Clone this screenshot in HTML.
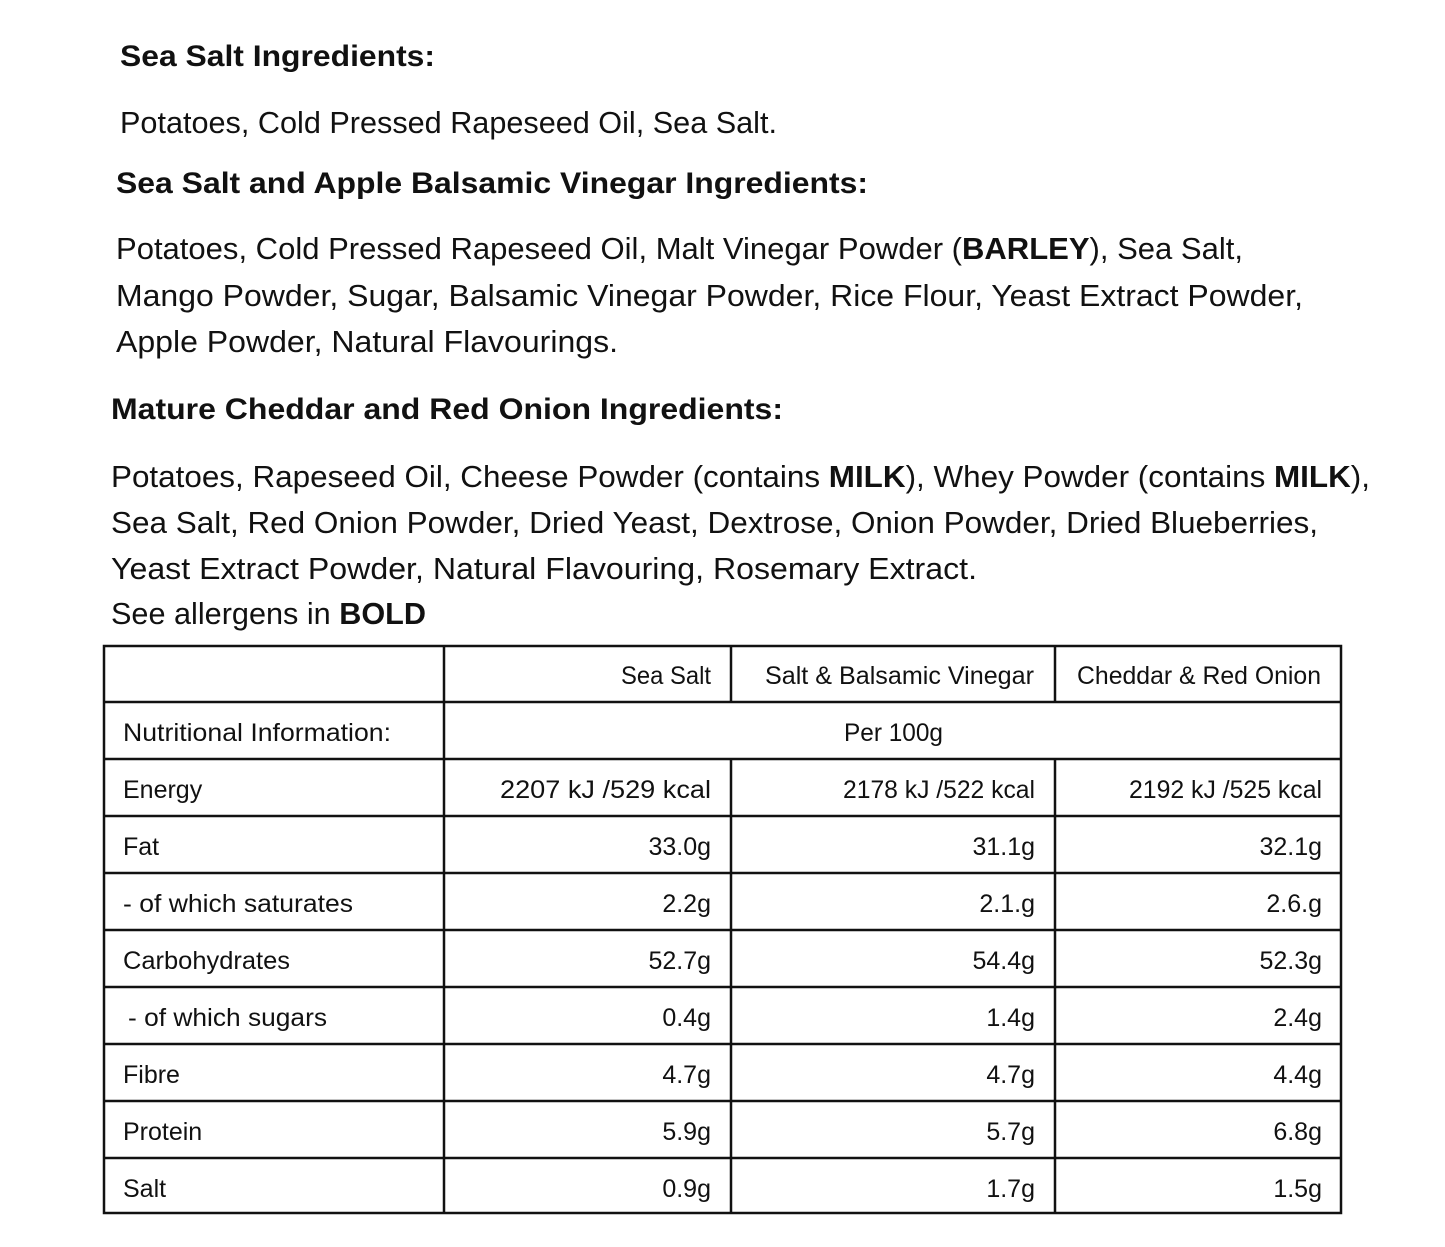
<!DOCTYPE html>
<html><head><meta charset="utf-8"><style>
html,body{margin:0;padding:0;background:#fff;}
svg{display:block;}
text{font-family:"Liberation Sans",sans-serif;fill:#111;}
.h{font-weight:bold;font-size:30px;}
.p{font-size:31px;}
.t{font-size:25px;}
</style></head><body>
<svg width="1445" height="1247" viewBox="0 0 1445 1247" xmlns="http://www.w3.org/2000/svg">
<text class="h" x="120" y="66" textLength="315" lengthAdjust="spacingAndGlyphs">Sea Salt Ingredients:</text>
<text class="p" x="120" y="133" textLength="657" lengthAdjust="spacingAndGlyphs">Potatoes, Cold Pressed Rapeseed Oil, Sea Salt.</text>
<text class="h" x="116" y="193" textLength="752" lengthAdjust="spacingAndGlyphs">Sea Salt and Apple Balsamic Vinegar Ingredients:</text>
<text class="p" x="116" y="259" textLength="1127" lengthAdjust="spacingAndGlyphs">Potatoes, Cold Pressed Rapeseed Oil, Malt Vinegar Powder (<tspan font-weight="bold">BARLEY</tspan>), Sea Salt,</text>
<text class="p" x="116" y="306" textLength="1187" lengthAdjust="spacingAndGlyphs">Mango Powder, Sugar, Balsamic Vinegar Powder, Rice Flour, Yeast Extract Powder,</text>
<text class="p" x="116" y="352" textLength="502" lengthAdjust="spacingAndGlyphs">Apple Powder, Natural Flavourings.</text>
<text class="h" x="111" y="419" textLength="672" lengthAdjust="spacingAndGlyphs">Mature Cheddar and Red Onion Ingredients:</text>
<text class="p" x="111" y="487" textLength="1259" lengthAdjust="spacingAndGlyphs">Potatoes, Rapeseed Oil, Cheese Powder (contains <tspan font-weight="bold">MILK</tspan>), Whey Powder (contains <tspan font-weight="bold">MILK</tspan>),</text>
<text class="p" x="111" y="533" textLength="1207" lengthAdjust="spacingAndGlyphs">Sea Salt, Red Onion Powder, Dried Yeast, Dextrose, Onion Powder, Dried Blueberries,</text>
<text class="p" x="111" y="579" textLength="866" lengthAdjust="spacingAndGlyphs">Yeast Extract Powder, Natural Flavouring, Rosemary Extract.</text>
<text class="p" x="111" y="624" textLength="315" lengthAdjust="spacingAndGlyphs">See allergens in <tspan font-weight="bold">BOLD</tspan></text>
<g stroke="#111" stroke-width="2.5" fill="none">
<rect x="104" y="646" width="1237" height="567"/>
<line x1="104" y1="702" x2="1341" y2="702"/>
<line x1="104" y1="759" x2="1341" y2="759"/>
<line x1="104" y1="816" x2="1341" y2="816"/>
<line x1="104" y1="873" x2="1341" y2="873"/>
<line x1="104" y1="930" x2="1341" y2="930"/>
<line x1="104" y1="987" x2="1341" y2="987"/>
<line x1="104" y1="1044" x2="1341" y2="1044"/>
<line x1="104" y1="1101" x2="1341" y2="1101"/>
<line x1="104" y1="1158" x2="1341" y2="1158"/>
<line x1="444" y1="646" x2="444" y2="1213"/>
<line x1="731" y1="646" x2="731" y2="702"/>
<line x1="1055" y1="646" x2="1055" y2="702"/>
<line x1="731" y1="759" x2="731" y2="1213"/>
<line x1="1055" y1="759" x2="1055" y2="1213"/>
</g>
<g class="t">
<text class="t" x="621" y="684" textLength="90" lengthAdjust="spacingAndGlyphs">Sea Salt</text>
<text class="t" x="765" y="684" textLength="269" lengthAdjust="spacingAndGlyphs">Salt &amp; Balsamic Vinegar</text>
<text class="t" x="1077" y="684" textLength="244" lengthAdjust="spacingAndGlyphs">Cheddar &amp; Red Onion</text>
<text class="t" x="123" y="741" textLength="268" lengthAdjust="spacingAndGlyphs">Nutritional Information:</text>
<text class="t" x="844" y="741" textLength="99" lengthAdjust="spacingAndGlyphs">Per 100g</text>
<text class="t" x="123" y="798">Energy</text>
<text class="t" x="500" y="798" textLength="211" lengthAdjust="spacingAndGlyphs">2207 kJ /529 kcal</text>
<text class="t" x="843" y="798" textLength="192" lengthAdjust="spacingAndGlyphs">2178 kJ /522 kcal</text>
<text class="t" x="1129" y="798" textLength="193" lengthAdjust="spacingAndGlyphs">2192 kJ /525 kcal</text>
<text class="t" x="123" y="855">Fat</text>
<text class="t" x="123" y="912" textLength="230" lengthAdjust="spacingAndGlyphs">- of which saturates</text>
<text class="t" x="123" y="969" textLength="167" lengthAdjust="spacingAndGlyphs">Carbohydrates</text>
<text class="t" x="128" y="1026" textLength="199" lengthAdjust="spacingAndGlyphs">- of which sugars</text>
<text class="t" x="123" y="1083">Fibre</text>
<text class="t" x="123" y="1140">Protein</text>
<text class="t" x="123" y="1197">Salt</text>
<g text-anchor="end">
<text class="t" x="711" y="855">33.0g</text><text class="t" x="1035" y="855">31.1g</text><text class="t" x="1322" y="855">32.1g</text>
<text class="t" x="711" y="912">2.2g</text><text class="t" x="1035" y="912">2.1.g</text><text class="t" x="1322" y="912">2.6.g</text>
<text class="t" x="711" y="969">52.7g</text><text class="t" x="1035" y="969">54.4g</text><text class="t" x="1322" y="969">52.3g</text>
<text class="t" x="711" y="1026">0.4g</text><text class="t" x="1035" y="1026">1.4g</text><text class="t" x="1322" y="1026">2.4g</text>
<text class="t" x="711" y="1083">4.7g</text><text class="t" x="1035" y="1083">4.7g</text><text class="t" x="1322" y="1083">4.4g</text>
<text class="t" x="711" y="1140">5.9g</text><text class="t" x="1035" y="1140">5.7g</text><text class="t" x="1322" y="1140">6.8g</text>
<text class="t" x="711" y="1197">0.9g</text><text class="t" x="1035" y="1197">1.7g</text><text class="t" x="1322" y="1197">1.5g</text>
</g>
</g>
</svg>
</body></html>
